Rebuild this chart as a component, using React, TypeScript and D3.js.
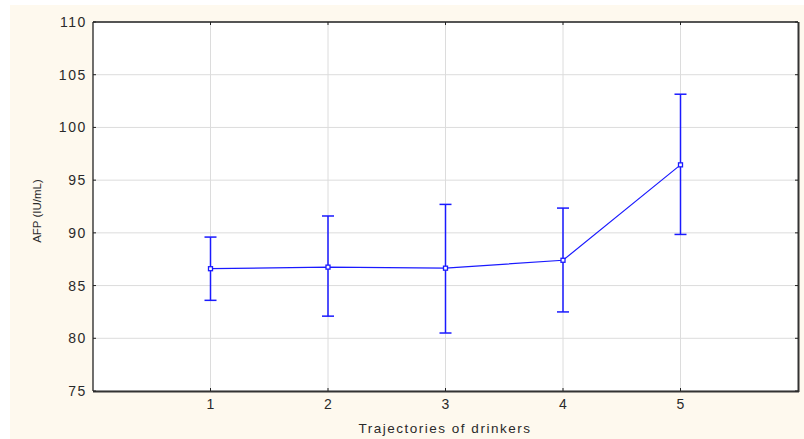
import React from "react";
import * as d3 from "d3";

const categories = [1, 2, 3, 4, 5];
const means = [86.6, 86.75, 86.65, 87.4, 96.45];
const upper = [89.6, 91.6, 92.7, 92.35, 103.15];
const lower = [83.6, 82.1, 80.5, 82.5, 89.85];
const yTicks = [75, 80, 85, 90, 95, 100, 105, 110];

const W = 804;
const H = 439;
const M = { left: 93, top: 22, right: 798, bottom: 391 };

export default function App() {
  const x = d3.scaleLinear().domain([0, 6]).range([M.left, M.right]);
  const y = d3.scaleLinear().domain([75, 110]).range([M.bottom, M.top]);
  const line = d3
    .line<number>()
    .x((_, i) => x(categories[i]))
    .y((d) => y(d));
  const blue = "#1a1aff";
  const txt = "#2a2a2a";
  return (
    <svg
      width={W}
      height={H}
      style={{ position: "absolute", left: 0, top: 0, fontFamily: "Liberation Sans, Arial, sans-serif" }}
    >
      <rect x={0} y={0} width={W} height={H} fill="#ffffff" />
      <rect x={10} y={5} width={W - 10} height={H - 5} fill="#fef9ee" />
      <rect x={M.left} y={M.top} width={M.right - M.left} height={M.bottom - M.top} fill="#ffffff" />
      {yTicks.map((t) => (
        <line key={"gy" + t} x1={M.left} x2={M.right} y1={y(t)} y2={y(t)} stroke="#dcdcdc" strokeWidth={1} />
      ))}
      {categories.map((c) => (
        <line key={"gx" + c} x1={x(c)} x2={x(c)} y1={M.top} y2={M.bottom} stroke="#dcdcdc" strokeWidth={1} />
      ))}
      <line x1={M.left} x2={M.right} y1={M.top} y2={M.top} stroke="#222" strokeWidth={1.3} />
      <line x1={M.left} x2={M.left} y1={M.top} y2={M.bottom} stroke="#222" strokeWidth={1.3} />
      <line x1={M.left} x2={M.right + 1} y1={M.bottom + 0.5} y2={M.bottom + 0.5} stroke="#333" strokeWidth={2} />
      <line x1={M.right + 0.5} x2={M.right + 0.5} y1={M.top} y2={M.bottom + 1} stroke="#333" strokeWidth={2} />
      {yTicks.map((t) => (
        <g key={"ty" + t}>
          <line x1={M.left} x2={M.left + 3} y1={y(t)} y2={y(t)} stroke="#222" />
          <line x1={M.right - 3} x2={M.right} y1={y(t)} y2={y(t)} stroke="#222" />
          <text x={87} y={y(t)} dy="0.36em" textAnchor="end" fontSize={14} fill={txt} letterSpacing={1.6}>
            {t}
          </text>
        </g>
      ))}
      {categories.map((c) => (
        <g key={"tx" + c}>
          <line x1={x(c)} x2={x(c)} y1={M.top} y2={M.top + 3} stroke="#222" />
          <line x1={x(c)} x2={x(c)} y1={M.bottom - 3} y2={M.bottom} stroke="#222" />
          <text x={x(c)} y={409} textAnchor="middle" fontSize={14} fill={txt}>
            {c}
          </text>
        </g>
      ))}
      <text x={445} y={433} textAnchor="middle" fontSize={13.5} fill={txt} letterSpacing={1.5}>
        Trajectories of drinkers
      </text>
      <text transform={`translate(41, 211) rotate(-90)`} textAnchor="middle" fontSize={11.5} fill={txt}>
        AFP (IU/mL)
      </text>
      {categories.map((c, i) => (
        <g key={"eb" + c} stroke={blue} strokeWidth={1.5}>
          <line x1={x(c)} x2={x(c)} y1={y(upper[i])} y2={y(lower[i])} />
          <line x1={x(c) - 6} x2={x(c) + 6} y1={y(upper[i])} y2={y(upper[i])} />
          <line x1={x(c) - 6} x2={x(c) + 6} y1={y(lower[i])} y2={y(lower[i])} />
        </g>
      ))}
      <path d={line(means) || ""} fill="none" stroke={blue} strokeWidth={1.2} />
      {categories.map((c, i) => (
        <rect
          key={"pt" + c}
          x={x(c) - 2}
          y={y(means[i]) - 2}
          width={4}
          height={4}
          fill="#fff"
          stroke={blue}
          strokeWidth={1.3}
        />
      ))}
    </svg>
  );
}
